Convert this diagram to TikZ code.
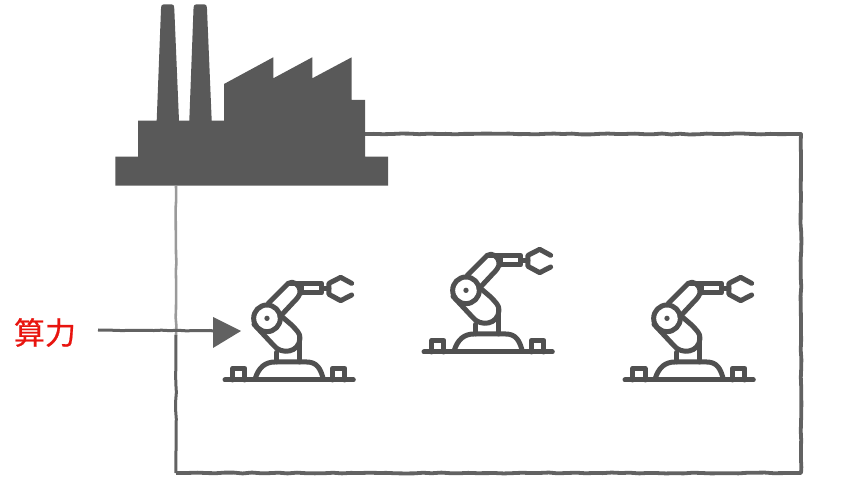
\documentclass[tikz,border=0pt]{standalone}
\usepackage{fontspec}
\newfontfamily\cjk[FakeBold=0.6]{Noto Sans CJK SC}
\usetikzlibrary{decorations.pathmorphing,calc}
\definecolor{fac}{HTML}{595959}
\definecolor{rob}{HTML}{505050}
\definecolor{sketch}{HTML}{626262}
\definecolor{sketchlight}{HTML}{9A9A9A}
\definecolor{lab}{HTML}{E8140F}
\tikzset{
  x=1pt,y=-1pt,
  rough/.style={draw=sketch,line width=3.8pt,line join=round,decorate,decoration={random steps,segment length=9pt,amplitude=0.45pt}},
  pics/robot/.style={code={
    \begin{scope}[x=0.3333pt,y=-0.3333pt,draw=rob,line width=5pt,line cap=round,line join=round]
      \draw (45,345) -- (430,345);
      \draw (68,345) -- (68,310) -- (105,310) -- (105,345);
      \draw (367,345) -- (367,310) -- (405,310) -- (405,345);
      \draw (135,343) .. controls (145,308) and (165,291) .. (195,291) -- (290,291) .. controls (320,291) and (332,310) .. (340,343);
      \draw (200,291) -- (200,262);
      \draw (270,291) -- (270,215);
      % lower arm
      \draw (132,178) -- (190,240) .. controls (215,272) and (268,262) .. (270,220) .. controls (270,205) and (262,198) .. (245,180) -- (210,150);
      % upper arm
      \draw (175,115) -- (235,55) .. controls (250,45) and (268,60) .. (270,75) .. controls (272,90) and (262,100) .. (250,112) -- (210,155);
      % joint
      \draw (171,160) circle[radius=40];
      \fill[rob] (171,160) circle[radius=8];
      % forearm
      \draw (235,55) -- (335,55) -- (335,84) -- (275,84);
      \draw (275,60) -- (275,84);
      \draw (335,70) -- (357,70);
      % gripper
      \draw (425,55) -- (392,37) -- (357,55) -- (357,88) -- (392,107) -- (425,90);
    \end{scope}
  }}
}
\begin{document}
\begin{tikzpicture}
\useasboundingbox (0,0) rectangle (847,494);
\pgfmathsetseed{7}
\coordinate (boxA) at (365,134);
\coordinate (boxB) at (801,134);
\coordinate (boxC) at (801,473);
\coordinate (boxD) at (176,473);
\coordinate (boxE) at (176,186);
\draw[rough] (boxA) -- (boxB) -- (boxC) -- (boxD);
\draw[draw=sketch,line width=3pt,decorate,decoration={random steps,segment length=9pt,amplitude=0.4pt}] (boxD) -- (176,335);
\draw[draw=sketchlight,line width=2.6pt,decorate,decoration={random steps,segment length=9pt,amplitude=0.4pt}] (176,335) -- (boxE);
% factory
\fill[fac,rounded corners=0pt]
 (115.3,185.7) -- (115.3,156.7) -- (138,156.7) -- (138,120.7) -- (156.7,120.7)
 -- (161,9) .. controls (161.2,5) and (162,4.3) .. (164,4.3) -- (171.5,4.3) .. controls (173.5,4.3) and (174,5) .. (174.3,9)
 -- (179,120.7) -- (189.3,120.7)
 -- (193.5,9) .. controls (193.7,5) and (194.5,4.3) .. (196.5,4.3) -- (204,4.3) .. controls (206,4.3) and (206.7,5) .. (207,9)
 -- (211.7,120.7) -- (224,120.7) -- (224,84) -- (273.3,57.3) -- (273.3,78.3) -- (312.3,57.3) -- (312.3,78.3) -- (351.7,57.3)
 -- (351.7,100) -- (365,100) -- (365,156.7) -- (388,156.7) -- (388,185.7) -- cycle;
% robots
\pic at (210,265) {robot};
\pic at (409,237) {robot};
\pic at (610,265) {robot};
% label and arrow
\node[text=lab,font=\cjk\fontsize{31}{31}\selectfont,inner sep=0pt] (power) at (45,332.5) {算力};
\coordinate (tip) at (241,331);
\coordinate (tailstart) at (98,330);
\draw[draw=sketch,line width=3pt,decorate,decoration={random steps,segment length=8pt,amplitude=0.5pt}] (tailstart) -- (214,331);
\fill[rob!90] (213,317) -- (tip) -- (213,348) -- cycle;
\end{tikzpicture}
\end{document}
